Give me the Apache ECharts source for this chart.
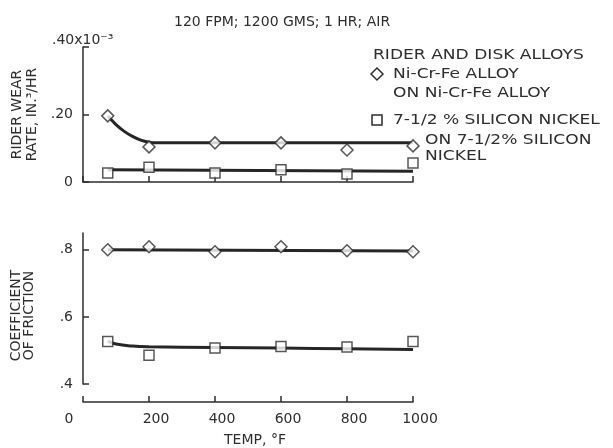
<!DOCTYPE html>
<html>
<head>
<meta charset="utf-8">
<title>Rider wear and friction vs temperature</title>
<script src="https://cdn.jsdelivr.net/npm/echarts@6/dist/echarts.min.js"></script>
<style>
html, body { margin: 0; padding: 0; background: #fff; }
#main { width: 613px; height: 448px; }
</style>
</head>
<body>
<div id="main"></div>
<script>
// measured points, temperature in deg F
const temps = [75, 200, 400, 600, 800, 1000];
const wearNiCrFe = [0.196, 0.104, 0.116, 0.116, 0.095, 0.107];   // x10^-3 in^3/hr
const wearSiNi = [0.027, 0.044, 0.027, 0.036, 0.024, 0.056];
const fricNiCrFe = [0.800, 0.809, 0.794, 0.809, 0.797, 0.794];
const fricSiNi = [0.527, 0.486, 0.507, 0.512, 0.510, 0.527];

// faired curves
const wearNiCrFeFitT = [75, 100, 125, 150, 175, 200, 225, 1000];
const wearNiCrFeFit = [0.196, 0.170, 0.150, 0.135, 0.124, 0.118, 0.116, 0.116];
const wearSiNiFitT = [75, 1000];
const wearSiNiFit = [0.036, 0.032];
const fricNiCrFeFitT = [75, 1000];
const fricNiCrFeFit = [0.800, 0.796];
const fricSiNiFitT = [75, 100, 150, 200, 400, 600, 800, 1000];
const fricSiNiFit = [0.528, 0.519, 0.513, 0.511, 0.509, 0.507, 0.505, 0.503];

// ticks
const tempTicks = [0, 200, 400, 600, 800, 1000];
const tempTickText = ['0', '200', '400', '600', '800', '1000'];
const wearTicks = [0, 0.2, 0.4];
const wearTickText = ['0', '.20', '.40x10⁻³'];
const fricTicks = [0.4, 0.6, 0.8];
const fricTickText = ['.4', '.6', '.8'];

const FONT = 'DejaVu Sans';
const INK = '#2e2e2e';
const LINE = '#262626';

function zip(xs, ys) {
    return xs.map((x, i) => [x, ys[i]]);
}

const chart = echarts.init(document.getElementById('main'));

const axisLine = { show: true, lineStyle: { color: INK, width: 1.5 } };
const axisTick = { show: true, inside: true, length: 6, lineStyle: { color: INK, width: 1.5 } };
const labelStyle = { fontFamily: FONT, fontSize: 14, color: INK };

function markers(xi, ys, shape, size) {
    return {
        type: 'scatter',
        xAxisIndex: xi,
        yAxisIndex: xi,
        data: zip(temps, ys),
        symbol: shape,
        symbolSize: size,
        itemStyle: { color: '#fff', borderColor: INK, borderWidth: 1.5 },
        z: 4
    };
}
function curve(xi, xs, ys) {
    return {
        type: 'line',
        xAxisIndex: xi,
        yAxisIndex: xi,
        data: zip(xs, ys),
        symbol: 'none',
        smooth: 0.4,
        lineStyle: { color: LINE, width: 3 },
        z: 3
    };
}
function legendText(str, x, y) {
    return {
        type: 'text',
        x: x,
        y: y,
        scaleX: 1.22,
        style: {
            text: str, fill: INK, fontFamily: FONT, fontSize: 14,
            align: 'left', textAlign: 'left', verticalAlign: 'middle', textVerticalAlign: 'middle'
        }
    };
}

const option = {
    backgroundColor: '#fff',
    animation: false,
    title: {
        text: '120 FPM; 1200 GMS; 1 HR; AIR',
        left: 174,
        top: 15,
        padding: 0,
        textStyle: { fontFamily: FONT, fontSize: 14, fontWeight: 'normal', color: INK }
    },
    grid: [
        { left: 83, top: 47, width: 330, height: 135 },
        { left: 83, top: 233, width: 330, height: 152 }
    ],
    xAxis: [
        {
            gridIndex: 0, type: 'value', min: 0, max: 1000, interval: 200,
            axisLine: axisLine, axisTick: axisTick,
            axisLabel: { show: false }, splitLine: { show: false }
        },
        {
            gridIndex: 1, type: 'value', min: 0, max: 1000, interval: 200, offset: 18,
            axisLine: axisLine, axisTick: axisTick, splitLine: { show: false },
            axisLabel: {
                margin: 10,
                formatter: v => {
                    const i = tempTicks.indexOf(v);
                    return (i === 0 ? '{z|' : '{n|') + tempTickText[i] + '}';
                },
                rich: {
                    z: Object.assign({ padding: [0, 28, 0, 0] }, labelStyle),
                    n: Object.assign({ padding: [0, 0, 0, 14] }, labelStyle)
                }
            },
            name: 'TEMP, °F', nameLocation: 'middle', nameGap: 31,
            nameTextStyle: Object.assign({ padding: [0, 0, 0, 14] }, labelStyle)
        }
    ],
    yAxis: [
        {
            gridIndex: 0, type: 'value', min: 0, max: 0.4, interval: 0.2,
            axisLine: axisLine, axisTick: axisTick, splitLine: { show: false },
            axisLabel: Object.assign({
                margin: 10,
                formatter: v => {
                    const i = wearTicks.findIndex(t => Math.abs(t - v) < 1e-9);
                    return i === wearTicks.length - 1 ? '' : wearTickText[i];
                }
            }, labelStyle),
            name: 'RIDER WEAR\nRATE, IN.³/HR', nameLocation: 'middle', nameGap: 42,
            nameTextStyle: Object.assign({ lineHeight: 15 }, labelStyle)
        },
        {
            gridIndex: 1, type: 'value', min: 0.4, max: 0.85,
            axisLine: axisLine, splitLine: { show: false },
            axisTick: Object.assign({ customValues: fricTicks }, axisTick),
            axisLabel: Object.assign({
                margin: 10,
                customValues: fricTicks,
                formatter: v => {
                    const i = fricTicks.findIndex(t => Math.abs(t - v) < 1e-9);
                    return i < 0 ? '' : fricTickText[i];
                }
            }, labelStyle),
            name: 'COEFFICIENT\nOF FRICTION', nameLocation: 'middle', nameGap: 47,
            nameTextStyle: Object.assign({ lineHeight: 13, padding: [0, 14, 0, 0] }, labelStyle)
        }
    ],
    graphic: [
        {
            type: 'text', x: 52, y: 40,
            style: {
                text: wearTickText[2], fill: INK, fontFamily: FONT, fontSize: 14,
                align: 'left', textAlign: 'left', verticalAlign: 'middle', textVerticalAlign: 'middle'
            }
        },
        legendText('RIDER AND DISK ALLOYS', 373, 55),
        {
            type: 'polygon',
            shape: { points: [[377, 68], [383, 74], [377, 80], [371, 74]] },
            style: { fill: '#fff', stroke: INK, lineWidth: 1.5 }
        },
        legendText('Ni-Cr-Fe ALLOY', 393, 74),
        legendText('ON Ni-Cr-Fe ALLOY', 393, 93),
        {
            type: 'rect',
            shape: { x: 372, y: 115, width: 10, height: 10 },
            style: { fill: '#fff', stroke: INK, lineWidth: 1.5 }
        },
        legendText('7-1/2 % SILICON NICKEL', 393, 120),
        legendText('ON 7-1/2% SILICON', 425, 140),
        legendText('NICKEL', 425, 156)
    ],
    series: [
        curve(0, wearNiCrFeFitT, wearNiCrFeFit),
        curve(0, wearSiNiFitT, wearSiNiFit),
        markers(0, wearNiCrFe, 'diamond', 12),
        markers(0, wearSiNi, 'rect', 10),
        curve(1, fricNiCrFeFitT, fricNiCrFeFit),
        curve(1, fricSiNiFitT, fricSiNiFit),
        markers(1, fricNiCrFe, 'diamond', 12),
        markers(1, fricSiNi, 'rect', 10)
    ]
};

chart.setOption(option);
</script>
</body>
</html>
